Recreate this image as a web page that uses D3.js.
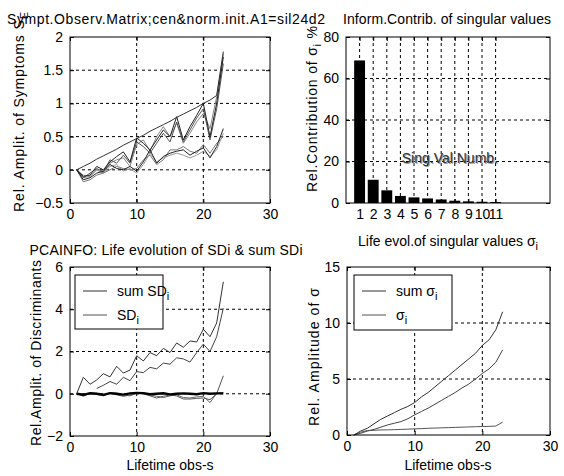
<!DOCTYPE html>
<html>
<head>
<meta charset="utf-8">
<script src="https://cdn.jsdelivr.net/npm/d3@7"></script>
<style>
body { margin: 0; background: #fff; }
svg text { font-family: "Liberation Sans", Arial, sans-serif; font-size: 14px; fill: #000; }
</style>
</head>
<body>
<div id="fig"></div>
<script>
// observation index (lifetime obs-s)
const obs = [1,2,3,4,5,6,7,8,9,10,11,12,13,14,15,16,17,18,19,20,21,22,23];

// symptom observation matrix (top left)
const sympEnvelope = [0, 0.05, 0.1, 0.16, 0.21, 0.26, 0.31, 0.37, 0.42, 0.47, 0.52, 0.58, 0.63, 0.68, 0.73, 0.79, 0.84, 0.89, 0.94, 1.0, 1.05, 1.12, 1.78];
const sympUp1 = [0, -0.1, -0.08, 0.05, 0.0, 0.12, 0.2, 0.27, 0.12, 0.48, 0.4, 0.3, 0.45, 0.6, 0.5, 0.8, 0.45, 0.65, 0.82, 1.0, 0.5, 1.0, 1.7];
const sympUp2 = [0, -0.12, -0.05, 0.02, -0.03, 0.15, 0.1, 0.22, 0.1, 0.42, 0.35, 0.25, 0.4, 0.55, 0.42, 0.72, 0.42, 0.6, 0.78, 0.92, 0.45, 0.92, 1.6];
const sympUp3 = [0, -0.08, -0.1, 0.0, -0.05, 0.1, 0.15, 0.18, 0.05, 0.38, 0.45, 0.28, 0.5, 0.65, 0.5, 0.7, 0.4, 0.55, 0.72, 0.85, 0.62, 1.1, 1.75];
const sympLow1 = [0, -0.15, -0.12, -0.05, -0.02, 0.08, 0.02, 0.0, 0.05, -0.02, 0.12, 0.3, 0.1, 0.2, 0.25, 0.28, 0.3, 0.22, 0.28, 0.33, 0.18, 0.35, 0.62];
const sympLow2 = [0, -0.12, -0.1, 0.0, -0.05, 0.05, 0.08, -0.02, 0.02, -0.05, 0.08, 0.25, 0.12, 0.18, 0.22, 0.25, 0.22, 0.18, 0.22, 0.28, 0.2, 0.3, 0.55];
const sympLow3 = [0, -0.18, -0.15, -0.08, -0.05, 0.0, 0.05, 0.02, 0.0, 0.02, 0.15, 0.22, 0.08, 0.15, 0.3, 0.3, 0.35, 0.28, 0.25, 0.38, 0.25, 0.4, 0.5];

// information contribution of singular values (top right)
const singNumb = [1,2,3,4,5,6,7,8,9,10,11];
const relContrib = [68.7, 11.2, 6.1, 3.4, 2.7, 2.2, 1.7, 1.1, 0.8, 0.6, 0.5];

// symptom discriminants (bottom left)
const sumSD = [0, 0.78, 0.45, 0.65, 0.95, 0.8, 1.3, 0.98, 1.12, 1.8, 1.55, 1.95, 1.8, 2.15, 1.95, 2.4, 2.2, 2.5, 2.45, 3.05, 2.7, 3.35, 5.3];
const sd1 = [null, null, null, 0.25, 0.4, 0.58, 0.45, 0.78, 0.62, 1.05, 1.0, 1.25, 1.18, 1.45, 1.4, 1.7, 1.65, 1.5, 1.95, 2.35, 2.0, 2.7, 4.05];
const sd2 = [0, -0.12, 0.02, -0.03, -0.1, 0.02, -0.05, -0.12, -0.06, 0.05, 0, -0.1, -0.2, -0.12, -0.06, -0.1, -0.25, -0.25, -0.22, -0.2, -0.28, 0.0, 0.85];
const sd3 = [0, -0.06, 0.04, 0.02, -0.06, 0.05, 0.02, -0.06, -0.1, 0.02, 0.05, -0.05, -0.12, -0.18, -0.1, -0.05, -0.18, -0.2, -0.15, -0.12, -0.42, 0.02, 0.05];
const sdZero = [0, -0.05, 0.02, 0, -0.05, 0.03, 0, -0.04, 0.02, 0.04, 0.03, -0.02, 0, 0.02, -0.03, 0, 0.02, 0, -0.02, 0.03, 0, 0.02, 0.02];

// singular values evolution (bottom right)
const sumSigma = [0, 0.35, 0.6, 1.0, 1.4, 1.7, 2.0, 2.3, 2.55, 2.9, 3.4, 3.8, 4.3, 4.8, 5.3, 5.8, 6.3, 6.8, 7.3, 8.0, 8.5, 9.4, 11.0];
const sigma1 = [0, 0.15, 0.35, 0.5, 0.7, 0.9, 1.05, 1.2, 1.45, 1.8, 2.1, 2.4, 2.75, 3.1, 3.45, 3.8, 4.2, 4.55, 5.0, 5.5, 5.9, 6.5, 7.6];
const sigma2 = [0, 0.25, 0.4, 0.42, 0.45, 0.46, 0.48, 0.5, 0.52, 0.55, 0.57, 0.6, 0.62, 0.64, 0.66, 0.68, 0.7, 0.72, 0.74, 0.76, 0.77, 0.8, 1.15];

const W = 564, H = 476;
const svg = d3.select("#fig").append("svg")
  .attr("width", W).attr("height", H);

// one matlab-style axes box with dotted grid
function panel(p) {
  const x = d3.scaleLinear().domain(p.xDom).range([p.x0, p.x1]);
  const y = d3.scaleLinear().domain(p.yDom).range([p.y1, p.y0]);
  const g = svg.append("g");

  g.append("rect")
    .attr("x", p.x0).attr("y", p.y0)
    .attr("width", p.x1 - p.x0).attr("height", p.y1 - p.y0)
    .attr("fill", "#fff");

  // grid
  g.append("g").selectAll("line")
    .data(p.xTicks.filter(t => t > p.xDom[0] && t < p.xDom[1]))
    .join("line")
    .attr("x1", d => x(d)).attr("x2", d => x(d))
    .attr("y1", p.y0).attr("y2", p.y1)
    .attr("stroke", "#000").attr("stroke-dasharray", "3,3");
  g.append("g").selectAll("line")
    .data(p.yTicks.filter(t => t > p.yDom[0] && t < p.yDom[1]))
    .join("line")
    .attr("y1", d => y(d)).attr("y2", d => y(d))
    .attr("x1", p.x0).attr("x2", p.x1)
    .attr("stroke", "#000").attr("stroke-dasharray", "3,3");

  const plot = g.append("g");

  // axes (ticks inside, mirrored on top/right)
  g.append("g").attr("transform", `translate(0,${p.y1})`)
    .call(d3.axisBottom(x).tickValues(p.xTicks).tickSizeInner(-4).tickSizeOuter(0).tickPadding(6).tickFormat(d3.format("")))
    .call(a => a.select(".domain").remove());
  g.append("g").attr("transform", `translate(${p.x0},0)`)
    .call(d3.axisLeft(y).tickValues(p.yTicks).tickSizeInner(-4).tickSizeOuter(0).tickPadding(7).tickFormat(d3.format("")))
    .call(a => a.select(".domain").remove());
  g.append("g").attr("transform", `translate(0,${p.y0})`)
    .call(d3.axisTop(x).tickValues(p.xTicks).tickSizeInner(-4).tickSizeOuter(0).tickFormat(""))
    .call(a => a.select(".domain").remove());
  g.append("g").attr("transform", `translate(${p.x1},0)`)
    .call(d3.axisRight(y).tickValues(p.yTicks).tickSizeInner(-4).tickSizeOuter(0).tickFormat(""))
    .call(a => a.select(".domain").remove());

  g.append("rect")
    .attr("x", p.x0).attr("y", p.y0)
    .attr("width", p.x1 - p.x0).attr("height", p.y1 - p.y0)
    .attr("fill", "none").attr("stroke", "#000");

  return {g, plot, x, y};
}

// text with optional subscripts; the tspan after a subscript moves back up
function addText(sel, parts) {
  let shift = 0;
  parts.forEach(pt => {
    const ts = sel.append("tspan").text(pt.t);
    if (pt.sub) {
      ts.attr("dy", 4).style("font-size", "11px");
      shift = 4;
    } else if (shift) {
      ts.attr("dy", -shift);
      shift = 0;
    }
  });
  return sel;
}

function title(cx, yb, parts, len) {
  const t = svg.append("text").attr("x", cx).attr("y", yb).attr("text-anchor", "middle");
  if (len) t.attr("textLength", len);
  return addText(t, parts);
}

function ylabel(xb, cy, parts, len) {
  const t = svg.append("text")
    .attr("transform", `translate(${xb},${cy}) rotate(-90)`)
    .attr("text-anchor", "middle");
  if (len) t.attr("textLength", len);
  return addText(t, parts);
}

function drawLines(pan, series, styles) {
  const line = d3.line()
    .defined(d => d[1] !== null)
    .x(d => pan.x(d[0])).y(d => pan.y(d[1]));
  series.forEach((s, i) => {
    pan.plot.append("path")
      .attr("d", line(obs.map((o, k) => [o, s[k]])))
      .attr("fill", "none")
      .attr("stroke", styles[i].c)
      .attr("stroke-width", styles[i].w || 1);
  });
}

// ---- top left
const p1 = panel({x0: 70, x1: 270, y0: 37, y1: 203, xDom: [0, 30], yDom: [-0.5, 2],
  xTicks: [0, 10, 20, 30], yTicks: [-0.5, 0, 0.5, 1, 1.5, 2]});
drawLines(p1,
  [sympLow3, sympLow2, sympUp3, sympUp2, sympEnvelope, sympLow1, sympUp1],
  [{c: "#777"}, {c: "#999"}, {c: "#888"}, {c: "#555"}, {c: "#333"}, {c: "#222"}, {c: "#222"}]);

// ---- top right
const p2 = panel({x0: 346, x1: 550, y0: 37, y1: 203, xDom: [0, 15], yDom: [0, 80],
  xTicks: singNumb, yTicks: [0, 20, 40, 60, 80]});
p2.plot.selectAll("rect")
  .data(singNumb)
  .join("rect")
  .attr("x", (d) => p2.x(d - 0.4))
  .attr("width", p2.x(0.8) - p2.x(0))
  .attr("y", (d, i) => p2.y(relContrib[i]))
  .attr("height", (d, i) => p2.y(0) - p2.y(relContrib[i]))
  .attr("fill", "#000");
p2.g.append("text").attr("x", p2.x(4.1) + 1).attr("y", p2.y(19.3) + 1)
  .style("fill", "#999").text("Sing.Val.Numb.");
p2.g.append("text").attr("x", p2.x(4.1)).attr("y", p2.y(19.3))
  .style("fill", "#333").text("Sing.Val.Numb.");

// ---- bottom left
const p3 = panel({x0: 70, x1: 270, y0: 267, y1: 436, xDom: [0, 30], yDom: [-2, 6],
  xTicks: [0, 10, 20, 30], yTicks: [-2, 0, 2, 4, 6]});
drawLines(p3,
  [sd3, sd2, sdZero, sd1, sumSD],
  [{c: "#666"}, {c: "#555"}, {c: "#000", w: 2.4}, {c: "#444"}, {c: "#333"}]);

// ---- bottom right
const p4 = panel({x0: 347, x1: 550, y0: 267, y1: 435, xDom: [0, 30], yDom: [0, 15],
  xTicks: [0, 10, 20, 30], yTicks: [0, 5, 10, 15]});
drawLines(p4,
  [sigma2, sigma1, sumSigma],
  [{c: "#555"}, {c: "#444"}, {c: "#333"}]);

// legends
function legend(bx, by, bw, bh, rows) {
  const g = svg.append("g");
  g.append("rect").attr("x", bx).attr("y", by).attr("width", bw).attr("height", bh)
    .attr("fill", "#fff").attr("stroke", "#000");
  rows.forEach((r, i) => {
    const yy = by + 16 + i * 24;
    g.append("line").attr("x1", bx + 8).attr("x2", bx + 32).attr("y1", yy).attr("y2", yy)
      .attr("stroke", r.c);
    addText(g.append("text").attr("x", bx + 42).attr("y", yy + 5), r.parts);
  });
}
legend(75, 275, 88, 54, [
  {c: "#333", parts: [{t: "sum SD"}, {t: "i", sub: true}]},
  {c: "#555", parts: [{t: "SD"}, {t: "i", sub: true}]}
]);
legend(354, 275, 98, 55, [
  {c: "#333", parts: [{t: "sum \u03c3"}, {t: "i", sub: true}]},
  {c: "#555", parts: [{t: "\u03c3"}, {t: "i", sub: true}]}
]);

// titles and labels
title(166, 24, [{t: "Sympt.Observ.Matrix;cen&norm.init.A1=sil24d2"}], 318);
title(447, 24, [{t: "Inform.Contrib.  of singular values"}], 208);
title(166, 255, [{t: "PCAINFO: Life evolution of SDi & sum SDi"}], 273);
title(448, 246, [{t: "Life evol.of singular values \u03c3"}, {t: "i", sub: true}]);
title(170, 470, [{t: "Lifetime obs-s"}]);
title(448, 470, [{t: "Lifetime obs-s"}]);

ylabel(24, 112, [{t: "Rel. Amplit. of Symptoms S"}, {t: "E", sub: true}], 200);
ylabel(317, 109, [{t: "Rel.Contribution of \u03c3"}, {t: "i", sub: true}, {t: " %"}], 166);
ylabel(41, 353, [{t: "Rel.Amplit. of Discriminants"}], 186);
ylabel(319, 357, [{t: "Rel. Amplitude of \u03c3"}], 138);
</script>
</body>
</html>
